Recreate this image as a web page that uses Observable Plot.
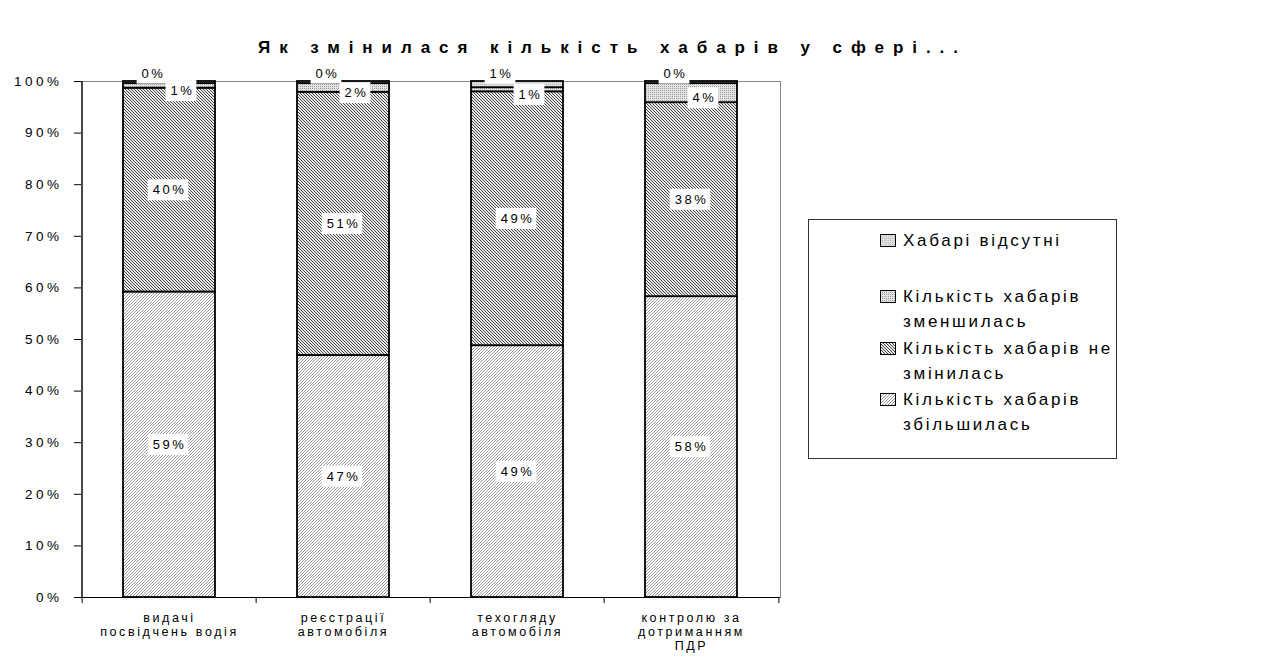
<!DOCTYPE html>
<html><head><meta charset="utf-8">
<script src="https://cdn.jsdelivr.net/npm/d3@7"></script>
<script src="https://cdn.jsdelivr.net/npm/@observablehq/plot@0.6"></script>
<style>
html,body{margin:0;padding:0;background:#fff;}
#wrap{position:relative;width:1279px;height:662px;font-family:"Liberation Sans",Arial,sans-serif;}
#wrap svg{position:absolute;left:0;top:0;}
g[aria-label="text"] text{letter-spacing:2.5px;}
g[aria-label="y-axis tick label"] text{letter-spacing:3.5px;}
g[aria-label="x-axis tick label"] text{letter-spacing:2.6px;}
</style></head><body><div id="wrap"></div>
<script>
const categories = ["видачі посвідчень водія","реєстрації автомобіля","техогляду автомобіля","контролю за дотриманням ПДР"];
const categoryLabels = ["видачі\nпосвідчень водія","реєстрації\nавтомобіля","техогляду\nавтомобіля","контролю за\nдотриманням\nПДР"];
const seriesNames = ["Кількість хабарів збільшилась","Кількість хабарів не змінилась","Кількість хабарів зменшилась","Хабарі відсутні"];
const increased = [59.2, 46.9, 48.8, 58.3];
const unchanged = [39.5, 51.0, 49.2, 37.6];
const decreased = [0.9, 1.7, 0.8, 3.7];
const absent = [0.4, 0.4, 1.2, 0.4];
const yTicks = [0, 0.1, 0.2, 0.3, 0.4, 0.5, 0.6, 0.7, 0.8, 0.9, 1];
const legendOrder = [3, 2, 1, 0];
const legendLines = [["Хабарі відсутні"],["Кількість хабарів","зменшилась"],["Кількість хабарів не","змінилась"],["Кількість хабарів","збільшилась"]];
const titleText = "Як змінилася кількість хабарів у сфері...";

const seriesValues = [increased, unchanged, decreased, absent];
const patterns = ["url(#pInc)","url(#pUnch)","url(#pDec)","url(#pAbs)"];
const rows = [];
categories.forEach((c, i) => seriesValues.forEach((arr, s) => rows.push({
  cat: c, series: seriesNames[s], s, value: arr[i] / 100, label: Math.round(arr[i]) + "%"
})));

const ns = "http://www.w3.org/2000/svg";
const wrap = document.getElementById("wrap");

// overlay: pattern defs, title, legend
const over = d3.select(wrap).append("svg").attr("width", 1279).attr("height", 662)
  .style("font-family", "Liberation Sans, Arial, sans-serif");
const defs = over.append("defs");
function pat(id, w, h, bg, build) {
  const p = defs.append("pattern").attr("id", id).attr("patternUnits", "userSpaceOnUse")
    .attr("width", w).attr("height", h);
  p.append("rect").attr("width", w).attr("height", h).attr("fill", bg);
  build(p);
}
pat("pInc", 3, 3, "#fff", p => p.append("path").attr("d", "M-1,4L4,-1M-1,1L1,-1M2,4L4,2").attr("stroke", "#999").attr("stroke-width", 1));
pat("pUnch", 3, 3, "#e8e8e8", p => p.append("path").attr("d", "M-1,-1L4,4M-1,2L1,4M2,-1L4,1").attr("stroke", "#444").attr("stroke-width", 1));
pat("pDec", 2, 2, "#e2e2e2", p => p.append("rect").attr("width", 1).attr("height", 1).attr("fill", "#a0a0a0"));
pat("pAbs", 2, 2, "#e0e0e0", p => p.append("rect").attr("width", 1).attr("height", 1).attr("fill", "#bcbcbc"));

const W = 1279, H = 662, mL = 81, mR = 499, mT = 81, mB = 65;
const step = (W - mL - mR) / categories.length;

const chart = Plot.plot({
  width: W, height: H, marginLeft: mL, marginRight: mR, marginTop: mT, marginBottom: mB,
  style: {fontFamily: "Liberation Sans, Arial, sans-serif", fontSize: "12px", background: "transparent", overflow: "visible", color: "#000"},
  x: {domain: categories, paddingInner: 0.469, paddingOuter: 0.2345, label: null},
  y: {domain: [0, 1], label: null},
  color: {type: "ordinal", domain: seriesNames, range: patterns},
  marks: [
    Plot.frame({stroke: "#888"}),
    Plot.barY(rows, {x: "cat", y: "value", fill: "series", stroke: "#000", strokeWidth: 1.8}),
    Plot.ruleY([0], {stroke: "#000", strokeWidth: 1.2}),
    Plot.ruleX(categories.slice(0, 1), {x: d => d, dx: -step / 2, y1: 0, y2: 1, stroke: "#000", strokeWidth: 1.2}),
    Plot.ruleX(categories, {x: d => d, dx: -step / 2, y1: 0, y2: 0, insetBottom: -6, stroke: "#000"}),
    Plot.ruleX(categories.slice(-1), {x: d => d, dx: step / 2, y1: 0, y2: 0, insetBottom: -6, stroke: "#000"}),
    Plot.axisY({ticks: yTicks, tickFormat: d3.format(".0%"), tickSize: 7, tickPadding: 12, fontSize: 13.5, label: null}),
    Plot.axisX({tickSize: 0, tickPadding: 14, fontSize: 12.5, lineHeight: 1.15, tickFormat: d => categoryLabels[categories.indexOf(d)], label: null}),
    Plot.text(rows, Plot.stackY({x: "cat", y: "value", text: d => d.s < 2 ? d.label : null, fontSize: 13})),
    Plot.text(rows, Plot.stackY({x: "cat", y: "value", text: d => d.s === 2 ? d.label : null, fontSize: 13, dx: 13, dy: 5})),
    Plot.text(rows, Plot.stackY2({x: "cat", y: "value", text: d => d.s === 3 ? d.label : null, fontSize: 13, dx: -16, dy: -8}))
  ]
});
wrap.insertBefore(chart, wrap.firstChild);

// white boxes behind segment labels
chart.querySelectorAll('g[aria-label="text"]').forEach(g => {
  g.querySelectorAll("text").forEach(t => {
    const b = t.getBBox();
    const r = document.createElementNS(ns, "rect");
    r.setAttribute("x", b.x - 5);
    r.setAttribute("y", b.y - 3);
    r.setAttribute("width", b.width + 7);
    r.setAttribute("height", b.height + 6);
    r.setAttribute("fill", "#fff");
    if (t.getAttribute("transform")) r.setAttribute("transform", t.getAttribute("transform"));
    t.parentNode.insertBefore(r, t);
  });
});

// title
over.append("text").attr("x", 608).attr("y", 53).attr("text-anchor", "middle")
  .attr("font-weight", "bold").attr("font-size", 17).attr("textLength", 700).attr("lengthAdjust", "spacing")
  .text(titleText);

// legend
over.append("rect").attr("x", 808.5).attr("y", 219.5).attr("width", 308).attr("height", 239)
  .attr("fill", "none").attr("stroke", "#333");
const rowY = [240, 296, 348, 399];
legendOrder.forEach((s, k) => {
  over.append("rect").attr("x", 880.5).attr("y", rowY[k] - 5.5).attr("width", 15).attr("height", 12)
    .attr("fill", patterns[s]).attr("stroke", "#000");
  const t = over.append("text").attr("x", 903).attr("y", rowY[k] + 6).attr("font-size", 17)
    .style("letter-spacing", "2.7px");
  legendLines[k].forEach((line, j) => t.append("tspan").attr("x", 903).attr("dy", j ? 25 : 0).text(line));
});
</script></body></html>
